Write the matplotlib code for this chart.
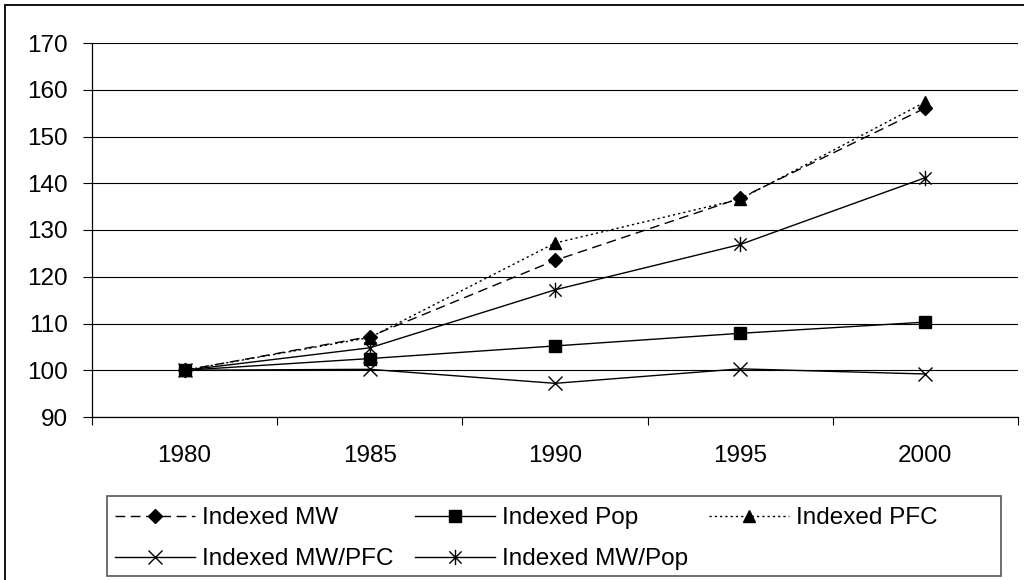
import numpy as np
import matplotlib
matplotlib.use("Agg")
import matplotlib.pyplot as plt
from matplotlib.path import Path
from matplotlib.patches import Rectangle

plt.rcParams['font.family'] = ['Liberation Sans', 'DejaVu Sans']
plt.rcParams['font.size'] = 17

years = ['1980', '1985', '1990', '1995', '2000']
mw = [100, 107.2, 123.5, 136.8, 156.1]
pop = [100, 102.5, 105.2, 107.9, 110.3]
pfc = [100, 107.0, 127.2, 136.6, 157.4]
mw_pfc = [100, 100.2, 97.2, 100.3, 99.2]
mw_pop = [100, 104.8, 117.2, 126.9, 141.2]
labels = ['Indexed MW', 'Indexed Pop', 'Indexed PFC', 'Indexed MW/PFC', 'Indexed MW/Pop']

# Excel style asterisk: x with a vertical bar
asterisk = Path([(-1, -1), (1, 1), (-1, 1), (1, -1), (0, -1.25), (0, 1.25)],
                [Path.MOVETO, Path.LINETO, Path.MOVETO, Path.LINETO, Path.MOVETO, Path.LINETO])

W, H = 1024, 580
fig = plt.figure(figsize=(W / 100, H / 100), dpi=100)
ax = fig.add_axes([92 / W, 1 - 417 / H, (1018 - 92) / W, (417 - 43) / H])

x = np.arange(len(years))
lw = 1.0
h_mw, = ax.plot(x, mw, color='black', lw=lw, dashes=(7, 4), marker='D', ms=7.5, label=labels[0])
h_pop, = ax.plot(x, pop, color='black', lw=lw, marker='s', ms=8.5, label=labels[1])
h_pfc, = ax.plot(x, pfc, color='black', lw=lw, dashes=(1.6, 2.2), marker='^', ms=9, label=labels[2])
h_mwpfc, = ax.plot(x, mw_pfc, color='black', lw=lw, marker='x', ms=9.5, mew=1.0, label=labels[3])
h_mwpop, = ax.plot(x, mw_pop, color='black', lw=lw, marker=asterisk, ms=11, mew=1.0,
                   mfc='none', label=labels[4])

ax.set_xlim(-0.5, len(years) - 0.5)
ax.set_ylim(90, 170)
ax.set_yticks(np.arange(90, 171, 10))
ax.yaxis.grid(True, color='black', lw=0.8)
ax.set_axisbelow(True)

# ticks between categories, labels at category centres
ax.set_xticks(np.arange(-0.5, len(years), 1.0))
ax.set_xticklabels([])
ax.set_xticks(x, minor=True)
ax.set_xticklabels(years, minor=True)
ax.tick_params(axis='x', which='major', direction='out', length=6, width=0.8, color='black')
ax.tick_params(axis='x', which='minor', length=0, pad=20, labelsize=17.5)
ax.tick_params(axis='y', direction='out', length=6.5, width=0.8, pad=11, labelsize=17.5)

for side in ['top', 'right']:
    ax.spines[side].set_visible(False)
for side in ['left', 'bottom']:
    ax.spines[side].set_color('black')
    ax.spines[side].set_linewidth(0.9)

# legend box and outer chart frame
fig.patches.append(Rectangle((107 / W, 1 - 576 / H), (1001 - 107) / W, 80 / H,
                             transform=fig.transFigure, fill=False,
                             edgecolor='#555555', lw=1.2))
fig.patches.append(Rectangle((5 / W, -0.1), 1.2, 1.1 - 5 / H,
                             transform=fig.transFigure, fill=False,
                             edgecolor='black', lw=1.3))

# legend filled column-wise, ordered so rows read MW, Pop, PFC / MW/PFC, MW/Pop
handles = [h_mw, h_mwpfc, h_pop, h_mwpop, h_pfc]
fig.legend(handles=handles, labels=[h.get_label() for h in handles],
           loc='upper left', bbox_to_anchor=(115 / W, 1 - 507 / H), ncol=3,
           frameon=False, borderpad=0, borderaxespad=0, handlelength=3.3,
           handletextpad=0.3, columnspacing=0.85, labelspacing=0.8, fontsize=17.5)

fig.savefig('out.png', dpi=100)
